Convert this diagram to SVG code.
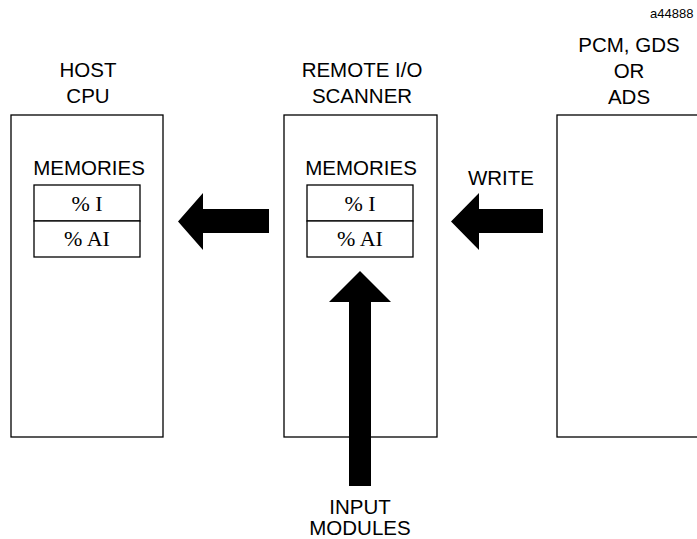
<svg xmlns="http://www.w3.org/2000/svg" width="697" height="539" viewBox="0 0 697 539">
<style>
.box{fill:#fff;stroke:#000;stroke-width:1.3}
.lbl{font-family:"Liberation Sans",Arial,sans-serif;font-size:20.5px;fill:#000;text-anchor:middle}
.mem{font-family:"Liberation Serif","Times New Roman",serif;font-size:22px;fill:#000;text-anchor:middle}
.arr{fill:#000;stroke:none}
</style>
<rect width="697" height="539" fill="#fff"/>
<text x="650" y="18" font-family="Liberation Sans, Arial, sans-serif" font-size="13" fill="#000">a44888</text>
<g id="host">
<text class="lbl" x="88" y="77">HOST</text>
<text class="lbl" x="88" y="103">CPU</text>
<rect class="box" x="11" y="115" width="152" height="322"/>
<text class="lbl" x="89" y="175">MEMORIES</text>
<rect class="box" x="34" y="185" width="106" height="36"/>
<rect class="box" x="34" y="221" width="106" height="36"/>
<text class="mem" x="87" y="211">% I</text>
<text class="mem" x="87" y="246">% AI</text>
</g>
<g id="scanner">
<text class="lbl" x="362" y="77">REMOTE I/O</text>
<text class="lbl" x="362" y="103">SCANNER</text>
<rect class="box" x="284" y="115" width="153" height="322"/>
<text class="lbl" x="361" y="175">MEMORIES</text>
<rect class="box" x="307" y="185" width="106" height="36"/>
<rect class="box" x="307" y="221" width="106" height="36"/>
<text class="mem" x="360" y="211">% I</text>
<text class="mem" x="360" y="246">% AI</text>
</g>
<g id="pcm">
<text class="lbl" x="629" y="52">PCM, GDS</text>
<text class="lbl" x="629" y="78">OR</text>
<text class="lbl" x="629" y="104">ADS</text>
<rect class="box" x="557" y="115" width="150" height="322"/>
</g>
<g id="input">
<text class="lbl" x="360" y="514">INPUT</text>
<text class="lbl" x="360" y="535">MODULES</text>
</g>
<g id="connectors">
<polygon class="arr" points="178,221.5 203,193 203,209 269,209 269,233 203,233 203,250"/>
<polygon class="arr" points="451,221.5 479,193 479,209 543,209 543,233 479,233 479,250"/>
<text class="lbl" x="501" y="185">WRITE</text>
<polygon class="arr" points="360,271 391,302 371,302 371,486 349,486 349,302 329,302"/>
</g>
</svg>
